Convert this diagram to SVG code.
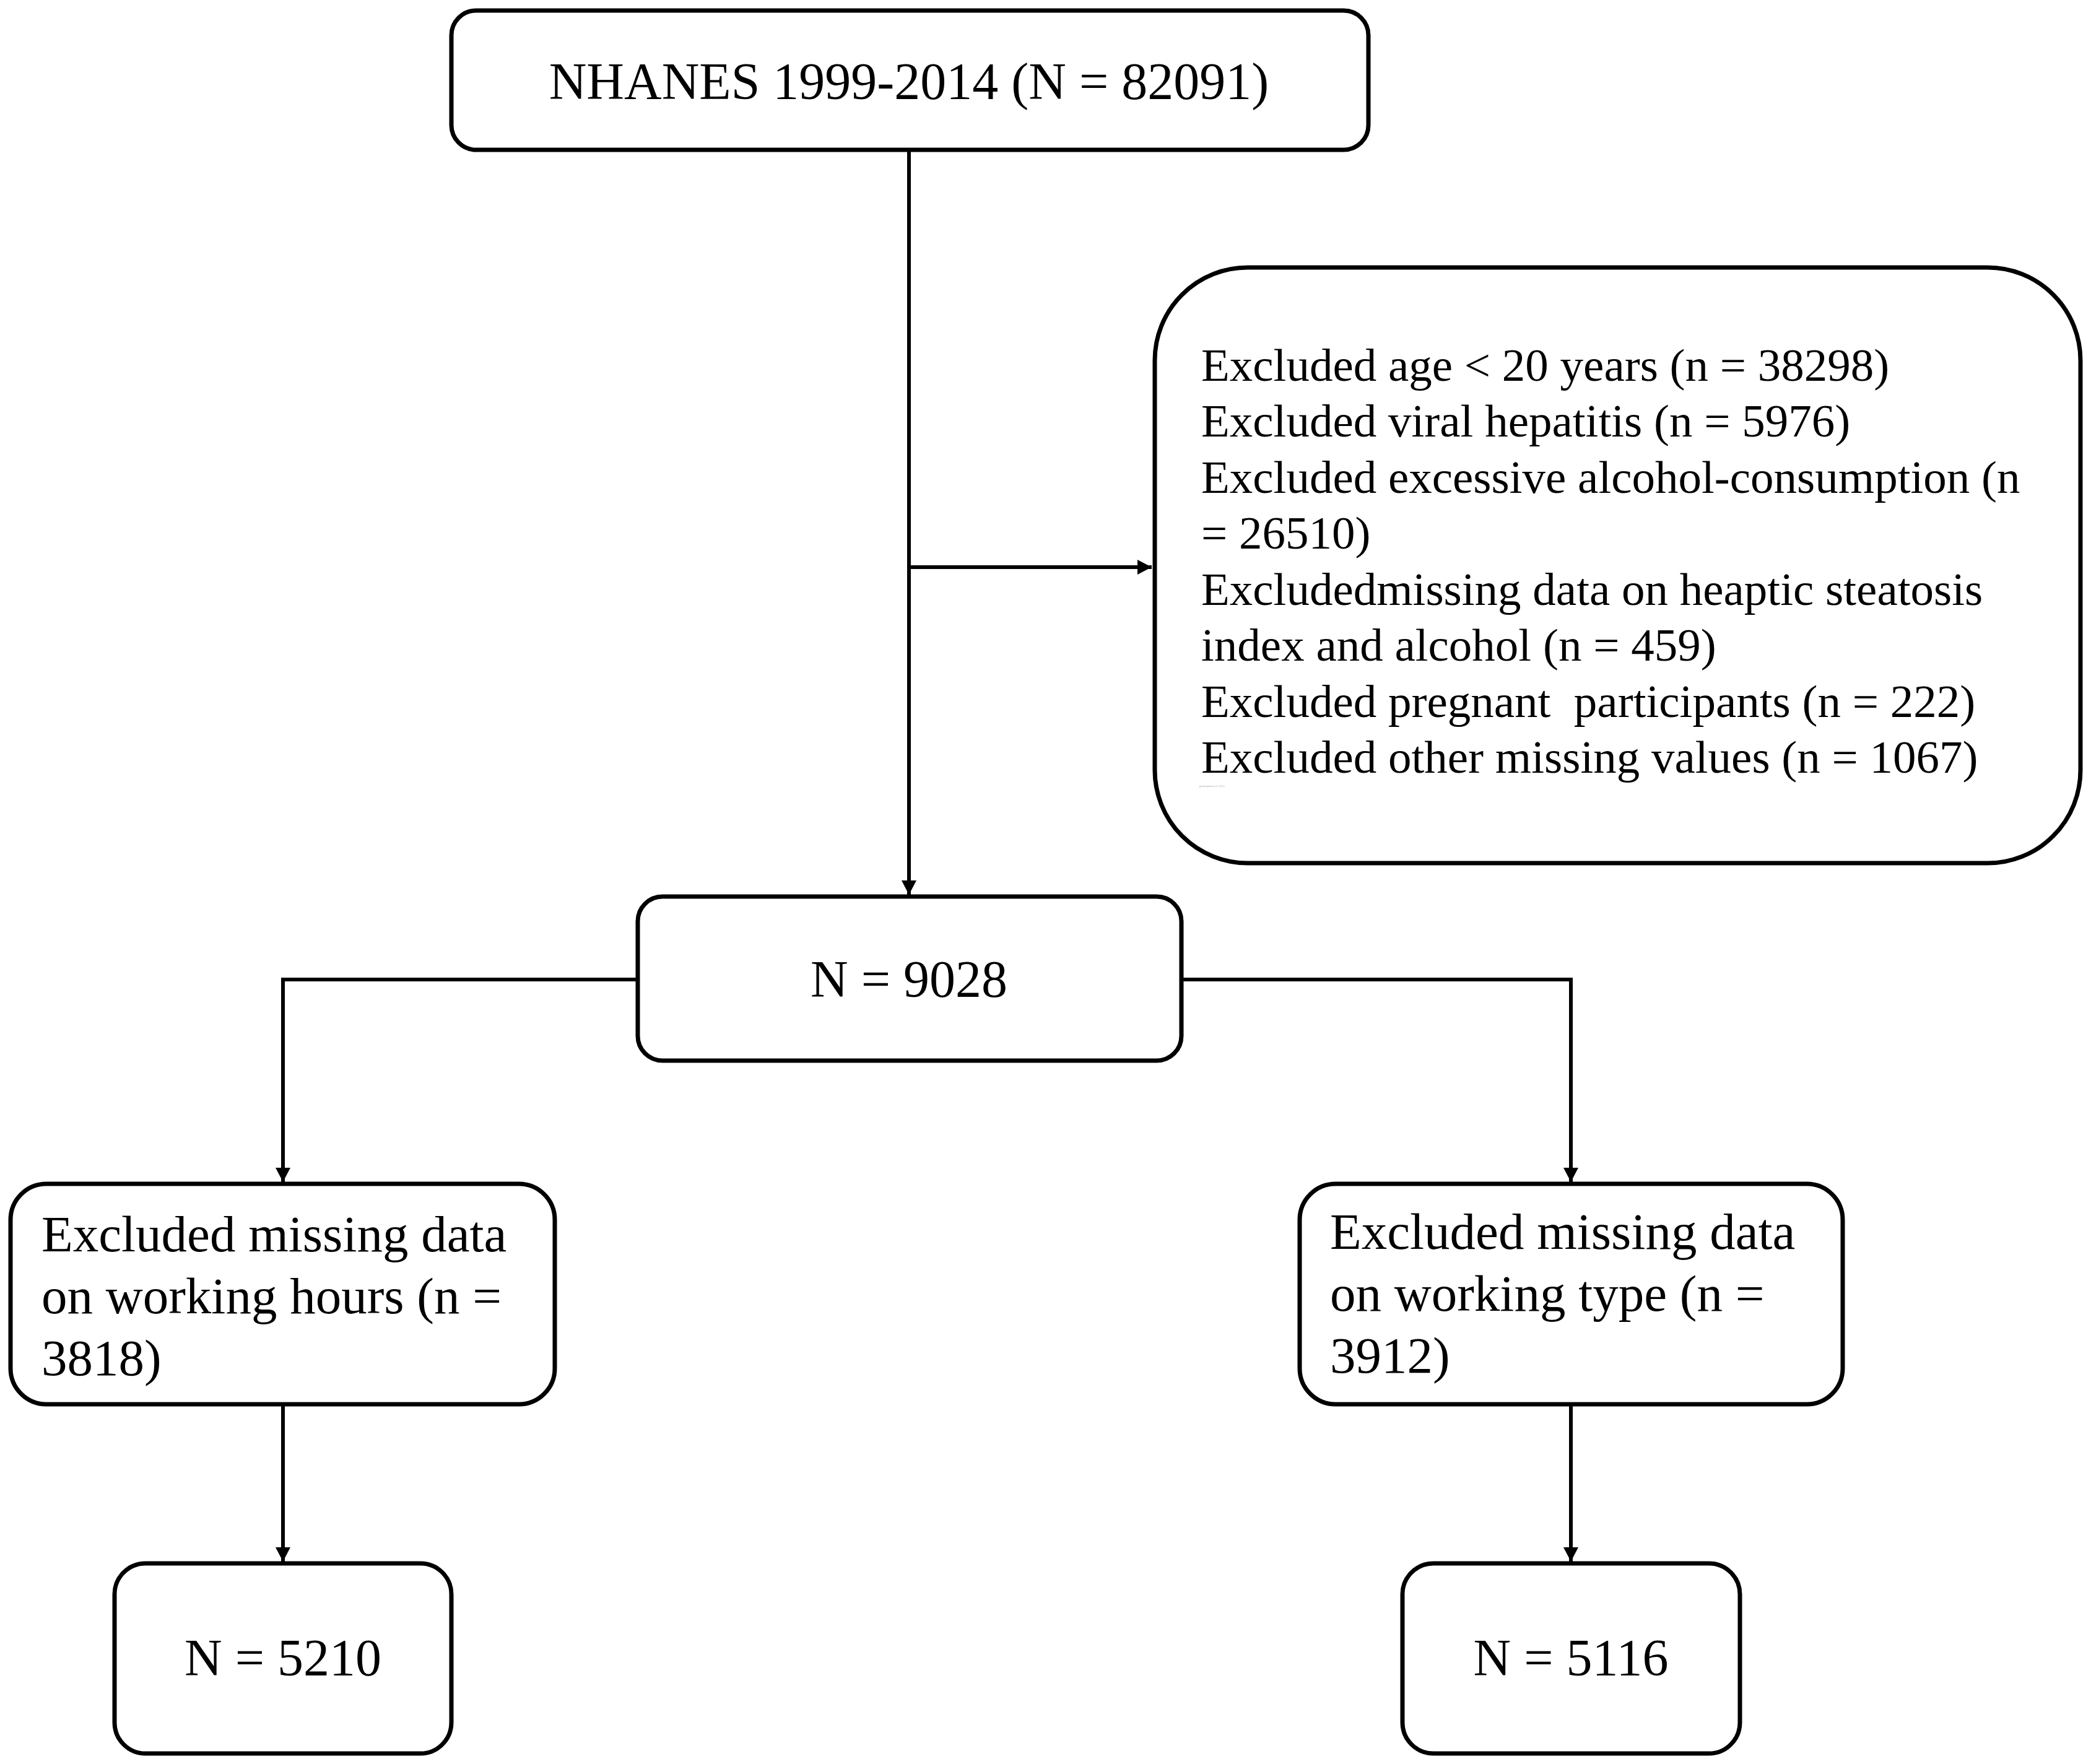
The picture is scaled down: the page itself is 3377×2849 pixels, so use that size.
<svg xmlns="http://www.w3.org/2000/svg" width="3377" height="2849" viewBox="0 0 3377 2849">
<style>
.box{fill:#fff;stroke:#000;stroke-width:7}
.t{font-family:"Liberation Serif","Times New Roman",serif;fill:#000}
.c{font-size:84px;text-anchor:middle}
.l{font-size:83px}
.e{font-size:75px;white-space:pre}
.con{fill:none;stroke:#000;stroke-width:6}
</style>
<defs>
<marker id="ah" markerUnits="userSpaceOnUse" markerWidth="24" markerHeight="24" refX="23" refY="12" orient="auto">
<path d="M0,0 L23,12 L0,24 Z" fill="#000"/>
</marker>
</defs>
<rect width="3377" height="2849" fill="#fff"/>
<g id="connectors">
<path class="con" d="M1468 242 V1445" marker-end="url(#ah)"/>
<path class="con" d="M1465 916 H1860" marker-end="url(#ah)"/>
<path class="con" d="M1030 1582 H457 V1909" marker-end="url(#ah)"/>
<path class="con" d="M1908 1582 H2537 V1909" marker-end="url(#ah)"/>
<path class="con" d="M457 2268 V2522" marker-end="url(#ah)"/>
<path class="con" d="M2537 2268 V2522" marker-end="url(#ah)"/>
</g>
<g id="n_top">
<rect class="box" x="729" y="17" width="1481" height="225" rx="40"/>
<text class="t c" x="1468" y="160">NHANES 1999-2014 (N = 82091)</text>
</g>
<g id="n_excl">
<rect class="box" x="1865" y="432" width="1495" height="962" rx="150"/>
<text class="t e" x="1940" y="615">Excluded age &lt; 20 years (n = 38298)</text>
<text class="t e" x="1940" y="705">Excluded viral hepatitis (n = 5976)</text>
<text class="t e" x="1940" y="796">Excluded excessive alcohol-consumption (n</text>
<text class="t e" x="1940" y="886">= 26510)</text>
<text class="t e" x="1940" y="977">Excludedmissing data on heaptic steatosis</text>
<text class="t e" x="1940" y="1067">index and alcohol (n = 459)</text>
<text class="t e" x="1940" y="1158">Excluded pregnant  participants (n = 222)</text>
<text class="t e" x="1940" y="1248">Excluded other missing values (n = 1067)</text>
<text class="t" x="1937" y="1271" font-size="5" style="fill:#aaa">participants (n=222)</text>
</g>
<g id="n_9028">
<rect class="box" x="1030" y="1448" width="878" height="265" rx="40"/>
<text class="t c" x="1468" y="1610">N = 9028</text>
</g>
<g id="n_hours">
<rect class="box" x="17" y="1912" width="879" height="356" rx="58"/>
<text class="t l" x="67" y="2021">Excluded missing data</text>
<text class="t l" x="67" y="2121">on working hours (n =</text>
<text class="t l" x="67" y="2221">3818)</text>
</g>
<g id="n_type">
<rect class="box" x="2099" y="1912" width="877" height="356" rx="58"/>
<text class="t l" x="2148" y="2017">Excluded missing data</text>
<text class="t l" x="2148" y="2117">on working type (n =</text>
<text class="t l" x="2148" y="2217">3912)</text>
</g>
<g id="n_5210">
<rect class="box" x="185" y="2525" width="544" height="307" rx="50"/>
<text class="t c" x="457" y="2706">N = 5210</text>
</g>
<g id="n_5116">
<rect class="box" x="2265" y="2525" width="545" height="307" rx="50"/>
<text class="t c" x="2537" y="2706">N = 5116</text>
</g>
</svg>
